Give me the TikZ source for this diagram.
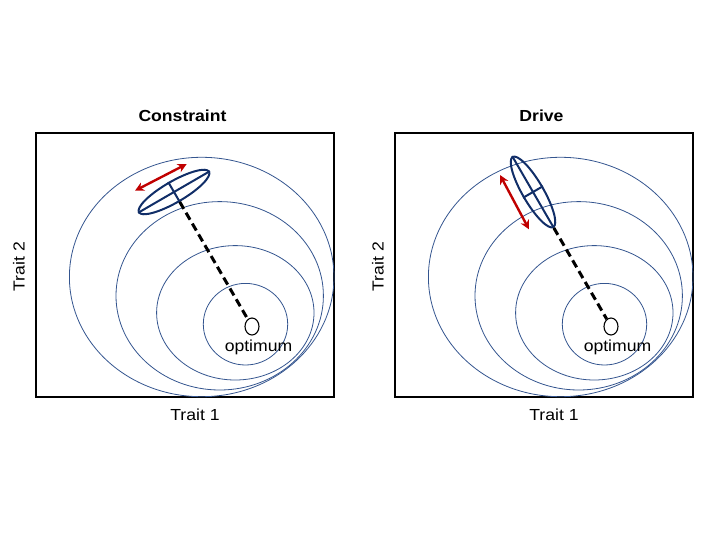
\documentclass[tikz,border=0pt]{standalone}
\usepackage{fontspec}
\newfontfamily\figfont[FakeStretch=1.1]{Liberation Sans}
\usetikzlibrary{arrows.meta, shapes.geometric}
\definecolor{contourblue}{HTML}{34558F}
\definecolor{phenoblue}{HTML}{112E68}
\definecolor{trendred}{HTML}{C00000}

\begin{document}
\begin{tikzpicture}[x=1pt,y=-1pt,>={Stealth[length=9pt,width=9pt]},
    font=\figfont\fontsize{16}{19}\selectfont,
    frame/.style={draw,line width=1.8pt},
    contour/.style={draw=contourblue,line width=0.8pt},
    pheno/.style={ellipse,draw=phenoblue,line width=2pt,minimum width=81pt,minimum height=21pt,inner sep=0pt},
    axisline/.style={draw=phenoblue,line width=2pt},
    opt/.style={ellipse,draw,fill=white,line width=1.1pt,minimum width=14pt,minimum height=17pt,inner sep=0pt},
    walk/.style={draw,line width=3pt,dash pattern=on 8pt off 4.5pt},
    trend/.style={<->,draw=trendred,line width=2.4pt}]
      \path[use as bounding box] (0,0) rectangle (720,540);
      \foreach \dx/\name/\ttl in {0/c/Constraint,359/d/Drive} {
        \begin{scope}[xshift=\dx]
          \draw[frame] (36,133) rectangle (334,397);
          \draw[contour] (201.7,277) ellipse [x radius=132.3, y radius=119.7];
          \draw[contour] (219.7,295.8) ellipse [x radius=103.7, y radius=94.2];
          \draw[contour] (235.3,312.8) ellipse [x radius=78.7, y radius=67.2];
          \draw[contour] (245.5,324.2) ellipse [x radius=42.2, y radius=40.8];
          \node[opt] (\name opt) at (252,326.5) {};
          \node[anchor=base] (\name optlabel) at (258.5,351) {optimum};
          \node[anchor=base,font=\figfont\bfseries\fontsize{16}{19}\selectfont] (\name title) at (182.5,122) {\ttl};
          \node[anchor=base] (\name xlabel) at (195,420) {Trait 1};
          \node[anchor=base,rotate=90] (\name ylabel) at (24.7,266.7) {Trait 2};
        \end{scope}
      }
      \node[pheno,rotate=30.1] (cpheno) at (174,192) {};
      \draw[axisline] (cpheno.west) -- (cpheno.east) (cpheno.north) -- (cpheno.south);
      \draw[walk] (cpheno.south) -- (copt);
      \coordinate (ctrendA) at (135,190.7);
      \coordinate (ctrendB) at (186.7,164);
      \draw[trend] (ctrendA) -- (ctrendB);
      \node[pheno,rotate=-59.9] (dpheno) at (533,192) {};
      \draw[axisline] (dpheno.west) -- (dpheno.east) (dpheno.north) -- (dpheno.south);
      \draw[walk] (dpheno.east) -- (dopt);
      \coordinate (dtrendA) at (500,175);
      \coordinate (dtrendB) at (529,229.3);
      \draw[trend] (dtrendA) -- (dtrendB);
    \end{tikzpicture}
\end{document}
